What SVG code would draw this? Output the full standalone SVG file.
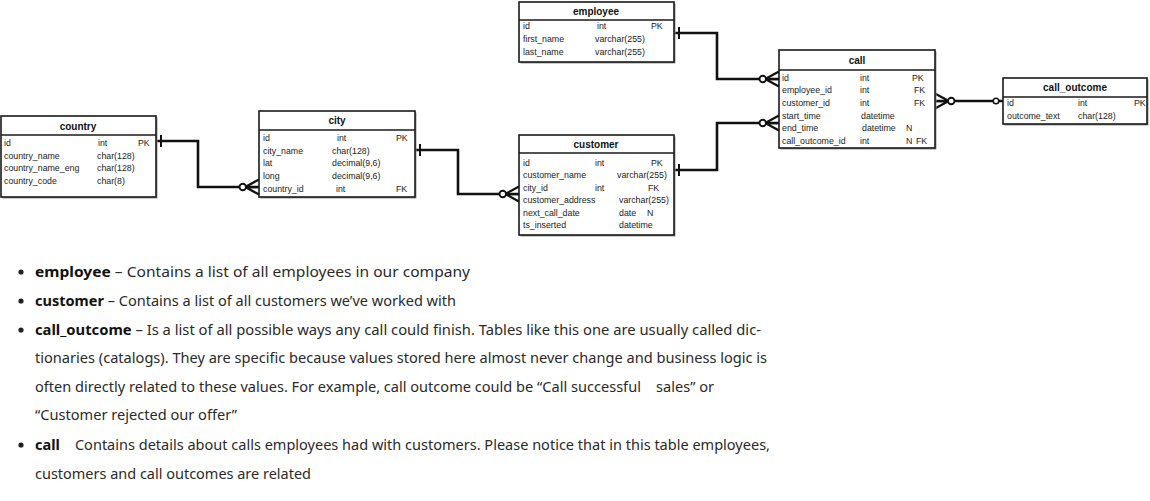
<svg xmlns="http://www.w3.org/2000/svg" width="1150" height="501" viewBox="0 0 1150 501">
<style>
.bg{fill:#fff}
.sh{fill:#9a9a9a}
.box{fill:#fff;stroke:#1a1a1a;stroke-width:1.6}
.hl{stroke:#1a1a1a;stroke-width:1.6}
.tt{font-family:"Liberation Sans",Arial,sans-serif;font-size:10px;font-weight:bold;fill:#111;text-anchor:middle}
.r{font-family:"Liberation Sans",Arial,sans-serif;font-size:8.8px;fill:#222}
.con{fill:none;stroke:#111;stroke-width:2.6;stroke-linejoin:miter}
.p{font-family:"Noto Sans","Open Sans",sans-serif;font-size:14px;fill:#2a2a2a}
.b{font-weight:bold;fill:#111}
.dot{fill:#222}
</style>
<defs>
<marker id="many0" markerUnits="userSpaceOnUse" markerWidth="30" markerHeight="30" viewBox="-20 -10 24 20" refX="0" refY="0" orient="auto-start-reverse" overflow="visible">
<path d="M-11,0 L0,-6 M-11,0 L0,0 M-11,0 L0,6" fill="none" stroke="#111" stroke-width="1.8"/>
<circle cx="-13" cy="0" r="2.6" fill="#fff" stroke="#111" stroke-width="1.5"/>
</marker>
<marker id="one" markerUnits="userSpaceOnUse" markerWidth="20" markerHeight="20" viewBox="-10 -10 20 20" refX="0" refY="0" orient="auto-start-reverse" overflow="visible">
<path d="M-5,-6 L-5,6" fill="none" stroke="#111" stroke-width="2"/>
</marker>
<marker id="zero" markerUnits="userSpaceOnUse" markerWidth="20" markerHeight="20" viewBox="-14 -10 20 20" refX="0" refY="0" orient="auto" overflow="visible">
<circle cx="-7" cy="0" r="2.8" fill="#fff" stroke="#111" stroke-width="1.5"/>
</marker>
</defs>
<rect class="bg" x="0" y="0" width="1150" height="501"/>

<g id="connectors">
<path class="con" d="M156,141 H198 V187 H259" marker-start="url(#one)" marker-end="url(#many0)"/>
<path class="con" d="M415,150 H458 V194 H519" marker-start="url(#one)" marker-end="url(#many0)"/>
<path class="con" d="M674,33 H717 V79 H779" marker-start="url(#one)" marker-end="url(#many0)"/>
<path class="con" d="M674,170 H717 V123 H779" marker-start="url(#one)" marker-end="url(#many0)"/>
<path class="con" d="M935,101 H1003" marker-start="url(#many0)" marker-end="url(#zero)"/>
</g>

<g id="country">
<rect class="sh" x="2.5" y="117.5" width="155" height="81"/>
<rect class="box" x="1" y="116" width="155" height="81"/>
<line class="hl" x1="1" y1="135" x2="156" y2="135"/>
<text class="tt" x="78" y="130">country</text>
<text class="r" x="4" y="146">id</text><text class="r" x="98" y="146">int</text><text class="r" x="138" y="146">PK</text>
<text class="r" x="4" y="158.5">country_name</text><text class="r" x="97" y="158.5">char(128)</text>
<text class="r" x="4" y="171">country_name_eng</text><text class="r" x="97" y="171">char(128)</text>
<text class="r" x="4" y="184">country_code</text><text class="r" x="97" y="184">char(8)</text>
</g>

<g id="city">
<rect class="sh" x="260.5" y="112.5" width="156" height="86"/>
<rect class="box" x="259" y="111" width="156" height="86"/>
<line class="hl" x1="259" y1="130" x2="415" y2="130"/>
<text class="tt" x="337" y="124">city</text>
<text class="r" x="263" y="141">id</text><text class="r" x="337" y="141">int</text><text class="r" x="396" y="141">PK</text>
<text class="r" x="263" y="153.5">city_name</text><text class="r" x="332" y="153.5">char(128)</text>
<text class="r" x="263" y="166">lat</text><text class="r" x="332" y="166">decimal(9,6)</text>
<text class="r" x="263" y="179">long</text><text class="r" x="332" y="179">decimal(9,6)</text>
<text class="r" x="263" y="192">country_id</text><text class="r" x="336" y="192">int</text><text class="r" x="396" y="192">FK</text>
</g>

<g id="employee">
<rect class="sh" x="520.5" y="3.5" width="155" height="60"/>
<rect class="box" x="519" y="2" width="155" height="60"/>
<line class="hl" x1="519" y1="20" x2="674" y2="20"/>
<text class="tt" x="596" y="15">employee</text>
<text class="r" x="523" y="29">id</text><text class="r" x="597" y="29">int</text><text class="r" x="651" y="29">PK</text>
<text class="r" x="523" y="42">first_name</text><text class="r" x="595" y="42">varchar(255)</text>
<text class="r" x="523" y="55">last_name</text><text class="r" x="595" y="55">varchar(255)</text>
</g>

<g id="customer">
<rect class="sh" x="520.5" y="136.5" width="155" height="100"/>
<rect class="box" x="519" y="135" width="155" height="100"/>
<line class="hl" x1="519" y1="153" x2="674" y2="153"/>
<text class="tt" x="596" y="148">customer</text>
<text class="r" x="523" y="166">id</text><text class="r" x="595" y="166">int</text><text class="r" x="651" y="166">PK</text>
<text class="r" x="523" y="178">customer_name</text><text class="r" x="617" y="178">varchar(255)</text>
<text class="r" x="523" y="191">city_id</text><text class="r" x="595" y="191">int</text><text class="r" x="648" y="191">FK</text>
<text class="r" x="523" y="203">customer_address</text><text class="r" x="619" y="203">varchar(255)</text>
<text class="r" x="523" y="215.5">next_call_date</text><text class="r" x="619" y="215.5">date</text><text class="r" x="647" y="215.5">N</text>
<text class="r" x="523" y="228">ts_inserted</text><text class="r" x="619" y="228">datetime</text>
</g>

<g id="call">
<rect class="sh" x="780.5" y="51.5" width="156" height="98"/>
<rect class="box" x="779" y="50" width="156" height="98"/>
<line class="hl" x1="779" y1="70" x2="935" y2="70"/>
<text class="tt" x="857" y="64">call</text>
<text class="r" x="782" y="81">id</text><text class="r" x="860" y="81">int</text><text class="r" x="912" y="81">PK</text>
<text class="r" x="782" y="93">employee_id</text><text class="r" x="860" y="93">int</text><text class="r" x="914" y="93">FK</text>
<text class="r" x="782" y="106">customer_id</text><text class="r" x="860" y="106">int</text><text class="r" x="914" y="106">FK</text>
<text class="r" x="782" y="118.5">start_time</text><text class="r" x="861" y="118.5">datetime</text>
<text class="r" x="782" y="131">end_time</text><text class="r" x="862" y="131">datetime</text><text class="r" x="906" y="131">N</text>
<text class="r" x="782" y="144">call_outcome_id</text><text class="r" x="860" y="144">int</text><text class="r" x="906" y="144">N</text><text class="r" x="916" y="144">FK</text>
</g>

<g id="call_outcome">
<rect class="sh" x="1004.5" y="79.5" width="144" height="46"/>
<rect class="box" x="1003" y="78" width="144" height="46"/>
<line class="hl" x1="1003" y1="97" x2="1147" y2="97"/>
<text class="tt" x="1075" y="91">call_outcome</text>
<text class="r" x="1007" y="106">id</text><text class="r" x="1078" y="106">int</text><text class="r" x="1134" y="106">PK</text>
<text class="r" x="1007" y="119">outcome_text</text><text class="r" x="1078" y="119">char(128)</text>
</g>

<g id="description">
<circle class="dot" cx="21" cy="272" r="2.6"/>
<circle class="dot" cx="21" cy="301" r="2.6"/>
<circle class="dot" cx="21" cy="330" r="2.6"/>
<circle class="dot" cx="21" cy="445" r="2.6"/>
<text class="p" x="35" y="277" textLength="435" lengthAdjust="spacingAndGlyphs"><tspan class="b">employee</tspan> – Contains a list of all employees in our company</text>
<text class="p" x="35" y="306" textLength="421" lengthAdjust="spacingAndGlyphs"><tspan class="b">customer</tspan> – Contains a list of all customers we’ve worked with</text>
<text class="p" x="35" y="335" textLength="726" lengthAdjust="spacingAndGlyphs"><tspan class="b">call_outcome</tspan> – Is a list of all possible ways any call could finish. Tables like this one are usually called dic-</text>
<text class="p" x="35" y="363" textLength="732" lengthAdjust="spacingAndGlyphs">tionaries (catalogs). They are specific because values stored here almost never change and business logic is</text>
<text class="p" x="35" y="392" textLength="679" lengthAdjust="spacingAndGlyphs" xml:space="preserve">often directly related to these values. For example, call outcome could be “Call successful    sales” or</text>
<text class="p" x="35" y="420" textLength="202" lengthAdjust="spacingAndGlyphs">“Customer rejected our offer”</text>
<text class="p" x="35" y="450" textLength="735" lengthAdjust="spacingAndGlyphs" xml:space="preserve"><tspan class="b">call</tspan>    Contains details about calls employees had with customers. Please notice that in this table employees,</text>
<text class="p" x="35" y="479" textLength="276" lengthAdjust="spacingAndGlyphs">customers and call outcomes are related</text>
</g>
</svg>
